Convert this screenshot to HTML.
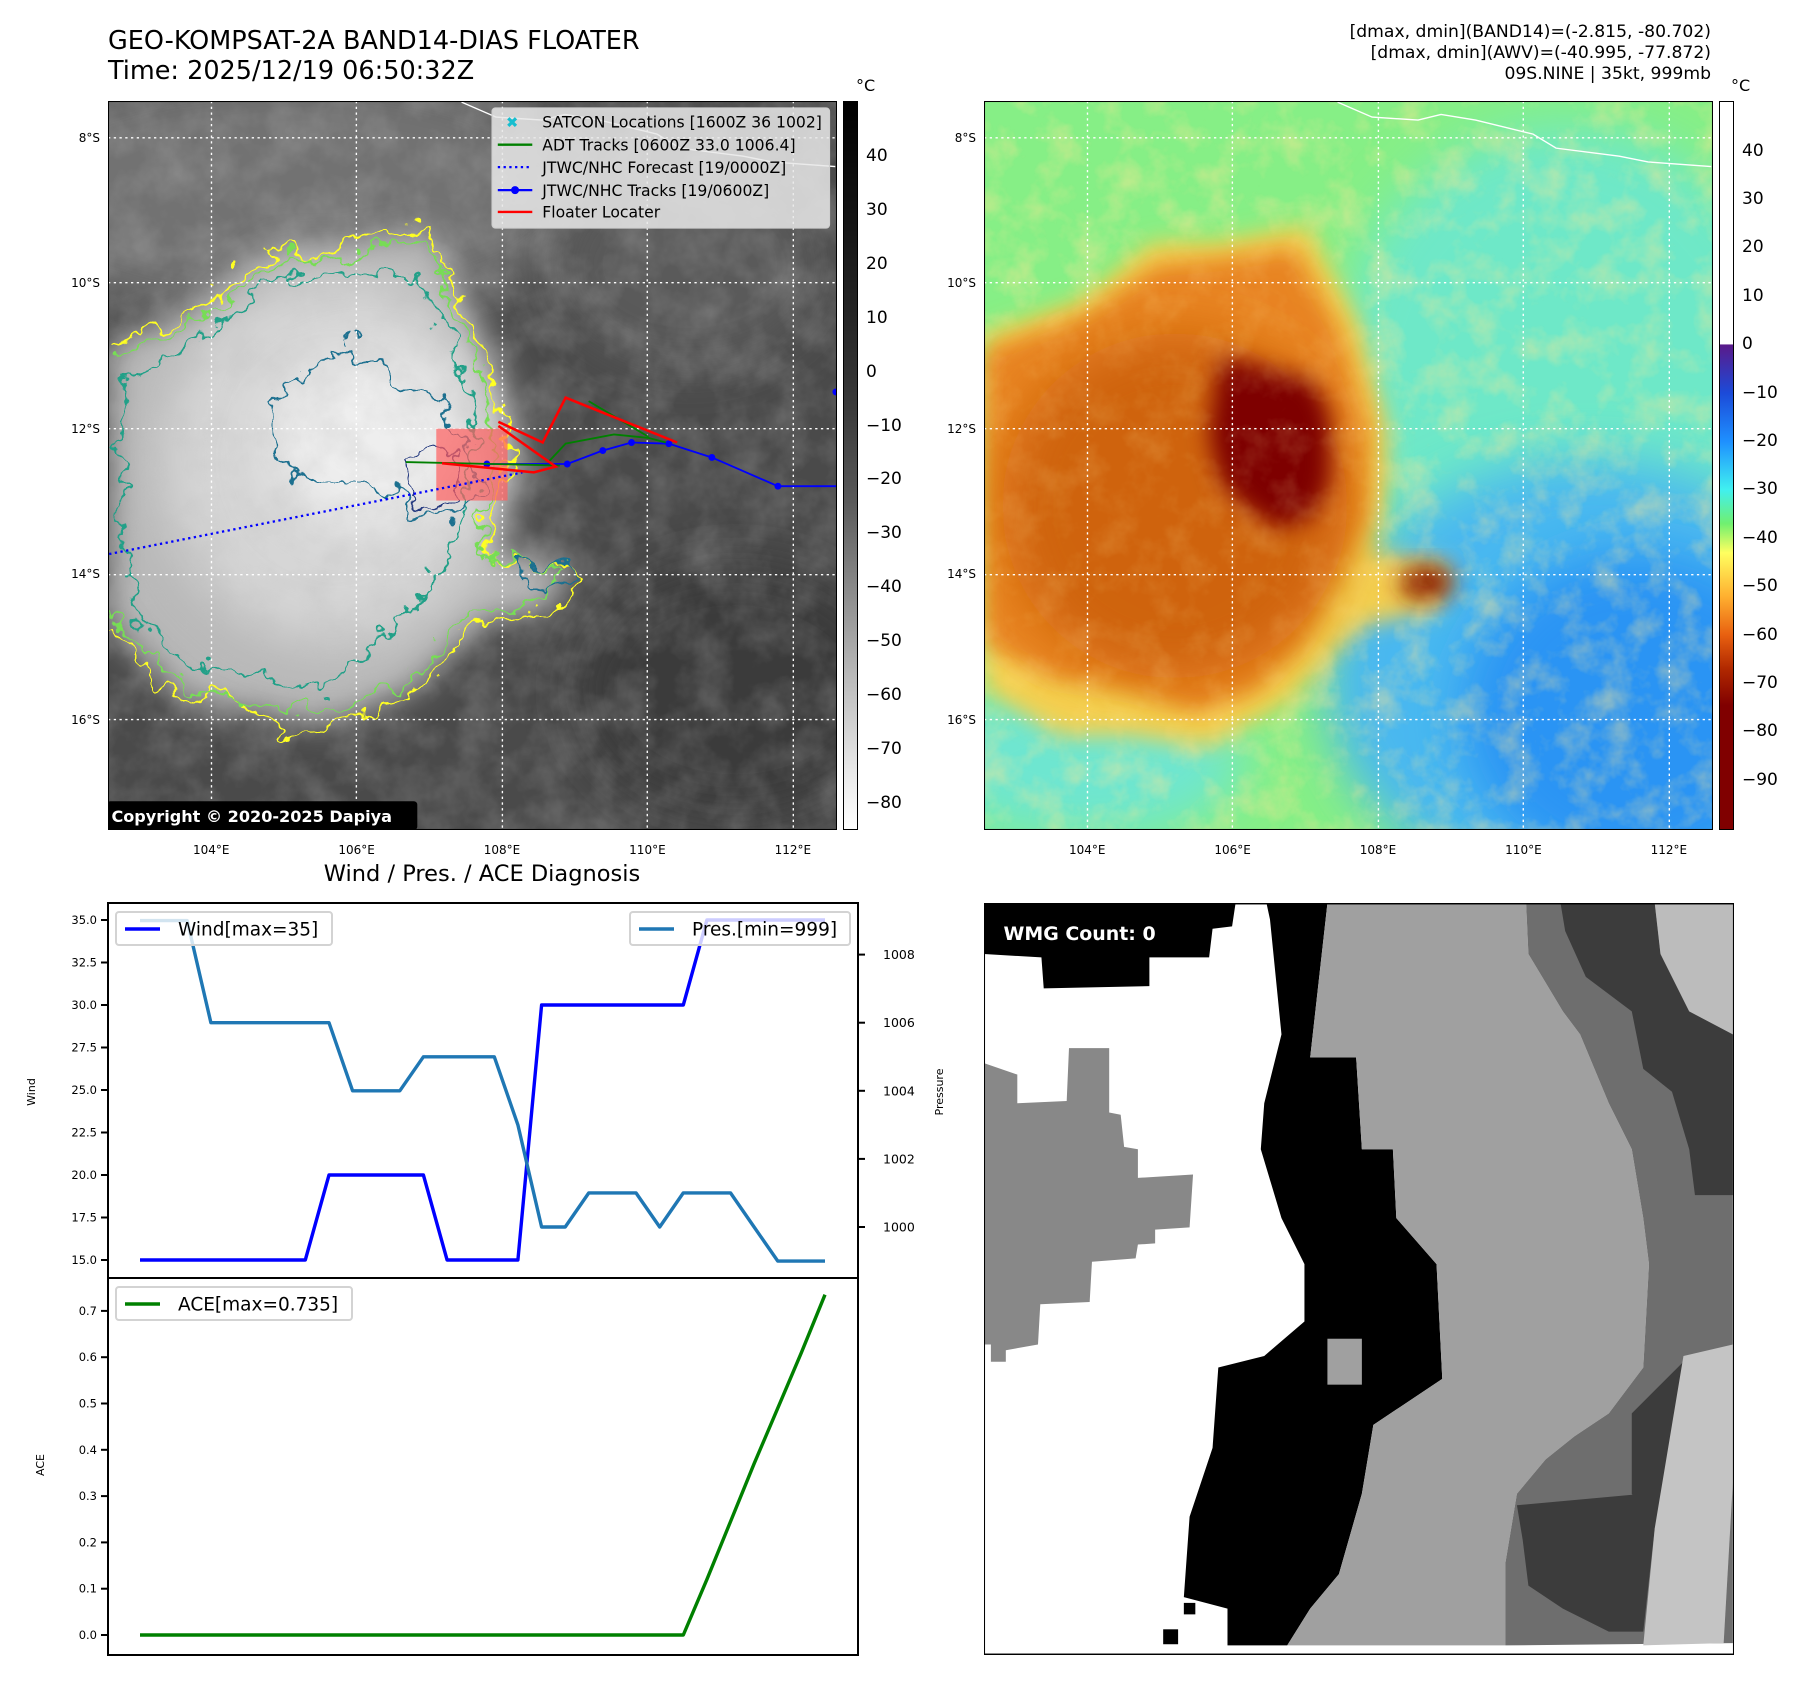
<!DOCTYPE html>
<html><head><meta charset="utf-8">
<style>
body{margin:0;background:#fff;font-family:"Liberation Sans","DejaVu Sans",sans-serif;}
#root{position:relative;width:1801px;height:1690px;overflow:hidden;background:#fff;}
.abs{position:absolute;}
.t{position:absolute;white-space:nowrap;color:#000;font-family:"DejaVu Sans","Liberation Sans",sans-serif;}
</style></head>
<body><div id="root">

<div class="t" style="left:108px;top:26px;font-size:25.5px;">GEO-KOMPSAT-2A BAND14-DIAS FLOATER</div>
<div class="t" style="left:108px;top:56px;font-size:25.5px;">Time: 2025/12/19 06:50:32Z</div>
<div class="t" style="right:90px;top:22px;font-size:17.2px;text-align:right;line-height:21px;">[dmax, dmin](BAND14)=(-2.815, -80.702)<br>[dmax, dmin](AWV)=(-40.995, -77.872)<br>09S.NINE | 35kt, 999mb</div>

<!-- MAP 1 -->
<svg class="abs" style="left:108px;top:101px" width="729" height="729" viewBox="94 88 634 634">
<defs>
<filter id="bl20" x="-50%" y="-50%" width="200%" height="200%"><feGaussianBlur stdDeviation="22"/></filter>
<filter id="bl10" x="-50%" y="-50%" width="200%" height="200%"><feGaussianBlur stdDeviation="14"/></filter>
<filter id="wig" x="-20%" y="-20%" width="140%" height="140%"><feTurbulence type="fractalNoise" baseFrequency="0.05" numOctaves="3" seed="3" result="n"/><feDisplacementMap in="SourceGraphic" in2="n" scale="34" xChannelSelector="R" yChannelSelector="G"/></filter>
<filter id="tex"><feTurbulence type="fractalNoise" baseFrequency="0.03" numOctaves="4" seed="7"/><feColorMatrix type="matrix" values="0 0 0 0 0.5 0 0 0 0 0.5 0 0 0 0 0.5 0 0 0 1.2 -0.4"/></filter>
<clipPath id="c1"><rect x="94" y="88" width="634" height="634"/></clipPath>
</defs>
<g clip-path="url(#c1)">
<rect x="94" y="88" width="634" height="634" fill="#4a4a4a"/>
<ellipse cx="250" cy="170" rx="260" ry="110" fill="#727272" filter="url(#bl20)"/>
<ellipse cx="600" cy="230" rx="120" ry="90" fill="#5a5a5a" filter="url(#bl20)"/>
<ellipse cx="640" cy="600" rx="140" ry="110" fill="#3a3a3a" filter="url(#bl20)"/>
<path d="M94,300 L180,265 L240,215 L300,215 L375,200 L410,280 L440,370 L442,410 L425,480 L500,490 L480,530 L420,540 L360,600 L290,630 L220,620 L160,610 L94,540Z" fill="#b8b8b8" filter="url(#bl10)"/>
<ellipse cx="290" cy="400" rx="150" ry="160" fill="#d6d6d6" filter="url(#bl20)"/>
<ellipse cx="320" cy="385" rx="85" ry="75" fill="#eeeeee" filter="url(#bl20)"/>
<rect x="94" y="88" width="634" height="634" filter="url(#tex)" opacity="0.4"/>
<g filter="url(#wig)" fill="none" stroke-width="2">
<path d="M94,300 L130,290 L180,265 L210,240 L240,215 L270,225 L300,215 L340,205 L375,200 L385,235 L410,280 L430,330 L440,370 L442,410 L430,445 L420,480 L450,490 L500,490 L510,505 L480,530 L420,540 L390,570 L360,600 L330,620 L290,630 L250,640 L220,620 L190,600 L160,610 L140,600 L110,560 L94,540" stroke="#ffff22"/>
<path d="M94,310 L140,295 L185,272 L240,225 L300,225 L370,210 L400,285 L425,335 L432,410 L415,480 L490,495 L470,522 L410,532 L355,592 L290,620 L220,610 L160,600 L115,555 L94,530" stroke="#77dd55"/>
<path d="M110,330 L190,285 L245,240 L300,240 L355,235 L395,300 L415,380 L405,450 L380,500 L330,560 L280,600 L220,590 L170,580 L120,540 L105,450Z" stroke="#22a088"/>
<path d="M232,350 L260,330 L280,310 L300,300 L330,320 L360,340 L375,340 L400,380 L420,420 L400,450 L360,450 L330,420 L300,420 L270,420 L240,400Z" stroke="#1f6f8f"/>
<path d="M350,400 L370,385 L395,390 L400,430 L380,445 L355,440Z" stroke="#253a80"/>
<path d="M455,490 L500,488 L505,505 L470,515 L455,505Z" stroke="#1f6f8f"/>
</g>
<g stroke="#fff" stroke-width="1.2" stroke-dasharray="2,3" fill="none">
<line x1="184" y1="88" x2="184" y2="722"/><line x1="310" y1="88" x2="310" y2="722"/><line x1="437" y1="88" x2="437" y2="722"/><line x1="563" y1="88" x2="563" y2="722"/><line x1="690" y1="88" x2="690" y2="722"/>
<line x1="94" y1="120" x2="728" y2="120"/><line x1="94" y1="246" x2="728" y2="246"/><line x1="94" y1="373" x2="728" y2="373"/><line x1="94" y1="500" x2="728" y2="500"/><line x1="94" y1="626" x2="728" y2="626"/>
</g>
<polyline points="401.5,89 431.5,102 471.5,104.6 491.5,99.7 521.5,104.6 571.5,116.8 591.5,129 646.5,136 671.5,141 726.5,145" fill="none" stroke="#fff" stroke-width="1.2"/>
<rect x="379.5" y="373" width="62" height="62.5" fill="#ff6060" opacity="0.7"/>
<polyline points="95,482 454.4,411" fill="none" stroke="#0000ff" stroke-width="2" stroke-dasharray="2,3"/>
<g fill="#0000ff">
<polyline points="423.5,403.7 493.4,403.7 524.3,392 549.3,385 581.7,386 619.2,398 676.6,423 730,423" fill="none" stroke="#0000ff" stroke-width="1.6"/>
<circle cx="423.5" cy="403.7" r="3"/><circle cx="493.4" cy="403.7" r="3"/><circle cx="524.3" cy="392" r="3"/><circle cx="549.3" cy="385" r="3"/><circle cx="581.7" cy="386" r="3"/><circle cx="619.2" cy="398" r="3"/><circle cx="676.6" cy="423" r="3"/><circle cx="727" cy="341" r="3"/>
</g>
<g fill="none" stroke="#008000" stroke-width="1.6">
<polyline points="353,402 487,405"/><polyline points="477,402 492,386 534,378 564,381 579,385"/><polyline points="512,349 564,380"/>
</g>
<g fill="none" stroke="#ff0000" stroke-width="2.2">
<polyline points="433.5,367 472,385 492,346 589,385"/><polyline points="433.5,370.6 483.4,406 464.4,411 384.5,403"/>
</g>
</g>
<rect x="94" y="88" width="634" height="634" fill="none" stroke="#000" stroke-width="1.8"/>
<g>
<rect x="428" y="94" width="293.5" height="104.5" rx="3" fill="#e8e8e8" fill-opacity="0.85" stroke="#cfcfcf"/>
<text x="440" y="111" font-size="13" fill="#17becf" font-weight="bold" font-family="DejaVu Sans">✖</text>
<line x1="433" y1="126" x2="463" y2="126" stroke="#008000" stroke-width="2"/>
<line x1="433" y1="145.5" x2="463" y2="145.5" stroke="#0000ff" stroke-width="2" stroke-dasharray="2,3"/>
<line x1="433" y1="165.5" x2="463" y2="165.5" stroke="#0000ff" stroke-width="2"/><circle cx="448" cy="165.5" r="3.5" fill="#0000ff"/>
<line x1="433" y1="184.5" x2="463" y2="184.5" stroke="#ff0000" stroke-width="2"/>
<g font-size="13.6" font-family="DejaVu Sans, Liberation Sans, sans-serif" fill="#000">
<text x="471.7" y="111">SATCON Locations [1600Z 36 1002]</text>
<text x="471.7" y="131">ADT Tracks [0600Z 33.0 1006.4]</text>
<text x="471.7" y="150.5">JTWC/NHC Forecast [19/0000Z]</text>
<text x="471.7" y="170.5">JTWC/NHC Tracks [19/0600Z]</text>
<text x="471.7" y="189.5">Floater Locater</text>
</g></g>
<rect x="93" y="697" width="270" height="25" rx="3" fill="#000"/>
<text x="97" y="715" font-size="14" font-weight="bold" fill="#fff" font-family="DejaVu Sans, Liberation Sans, sans-serif">Copyright © 2020-2025 Dapiya</text>
</svg>

<!-- MAP 2 -->
<svg class="abs" style="left:984px;top:101px" width="729" height="729" viewBox="94 88 634 634">
<defs>
<filter id="b2" x="-50%" y="-50%" width="200%" height="200%"><feGaussianBlur stdDeviation="22"/></filter>
<filter id="b3" x="-50%" y="-50%" width="200%" height="200%"><feGaussianBlur stdDeviation="10"/></filter>
<filter id="tex2"><feTurbulence type="fractalNoise" baseFrequency="0.035" numOctaves="4" seed="11"/><feColorMatrix type="matrix" values="0 0 0 0 1 0 0 0 0 0.8 0 0 0 0 0.3 0 0 0 1.4 -0.6"/></filter>
<clipPath id="c2"><rect x="94" y="88" width="634" height="634"/></clipPath>
</defs>
<g clip-path="url(#c2)">
<rect x="94" y="88" width="634" height="634" fill="#86ef86"/>
<ellipse cx="600" cy="330" rx="200" ry="220" fill="#6ee8c8" filter="url(#b2)"/>
<ellipse cx="180" cy="660" rx="140" ry="70" fill="#6ee6d0" filter="url(#b2)"/>
<ellipse cx="620" cy="590" rx="230" ry="190" fill="#48b8f0" filter="url(#b2)"/>
<ellipse cx="660" cy="620" rx="150" ry="140" fill="#2a94f4" filter="url(#b2)"/>
<rect x="94" y="88" width="634" height="634" filter="url(#tex2)" opacity="0.5"/>
<path d="M94,290 L180,260 L240,210 L300,210 L375,195 L420,280 L445,370 L445,420 L430,480 L500,490 L490,530 L420,545 L360,610 L290,650 L220,640 L160,640 L94,600Z" fill="#f4d050" filter="url(#b3)"/>
<path d="M94,305 L180,275 L245,230 L300,225 L365,215 L405,290 L428,370 L425,450 L400,500 L370,560 L330,600 L280,620 L220,600 L150,590 L94,560Z" fill="#e88424" filter="url(#b3)"/>
<ellipse cx="260" cy="440" rx="150" ry="150" fill="#cf6410" filter="url(#b2)"/>
<path d="M300,310 L340,320 L380,330 L395,360 L395,420 L380,450 L350,460 L320,440 L300,420 L290,380 L295,340Z" fill="#7e0000" filter="url(#b3)"/>
<ellipse cx="478" cy="507" rx="24" ry="15" fill="#8a1a00" filter="url(#b3)"/>
<rect x="94" y="88" width="634" height="634" filter="url(#tex2)" opacity="0.25"/>
<g stroke="#fff" stroke-width="1.2" stroke-dasharray="2,3" fill="none">
<line x1="184" y1="88" x2="184" y2="722"/><line x1="310" y1="88" x2="310" y2="722"/><line x1="437" y1="88" x2="437" y2="722"/><line x1="563" y1="88" x2="563" y2="722"/><line x1="690" y1="88" x2="690" y2="722"/>
<line x1="94" y1="120" x2="728" y2="120"/><line x1="94" y1="246" x2="728" y2="246"/><line x1="94" y1="373" x2="728" y2="373"/><line x1="94" y1="500" x2="728" y2="500"/><line x1="94" y1="626" x2="728" y2="626"/>
</g>
<polyline points="401.5,89 431.5,102 471.5,104.6 491.5,99.7 521.5,104.6 571.5,116.8 591.5,129 646.5,136 671.5,141 726.5,145" fill="none" stroke="#fff" stroke-width="1.2"/>
</g>
<rect x="94" y="88" width="634" height="634" fill="none" stroke="#000" stroke-width="1.8"/>
</svg>

<!-- Colorbars -->
<div class="abs" style="left:843px;top:101px;width:15px;height:729px;border:1px solid #000;box-sizing:border-box;background:linear-gradient(to bottom,#000 0%,#262626 30%,#3a3a3a 42%,#5a5a5a 55%,#8a8a8a 67%,#bdbdbd 80%,#e8e8e8 92%,#fff 100%);"></div>
<div class="t" style="left:856px;top:76px;font-size:16px;">°C</div>
<div class="abs" style="left:1719px;top:101px;width:15px;height:729px;border:1px solid #000;box-sizing:border-box;background:linear-gradient(to bottom,#fff 0%,#fff 33.3%,#5a1a8a 33.4%,#1c4ad8 40%,#1e90ff 46.7%,#40f0f0 53.3%,#70f070 58%,#ffff60 62%,#ffb030 68%,#e86010 73.3%,#b02800 78%,#800000 83%,#800000 100%);"></div>
<div class="t" style="left:1731px;top:76px;font-size:16px;">°C</div>

<div class="t" style="left:482px;top:861px;font-size:22.5px;transform:translateX(-50%);">Wind / Pres. / ACE Diagnosis</div>

<!-- Right bottom panel -->
<svg class="abs" style="left:984px;top:903px" width="750" height="752" viewBox="856 786 653 654">
<rect x="856" y="786" width="653" height="654" fill="#fff"/>
<path d="M856,786 L1075,786 L1072,806 L1055,808 L1052,833 L1000,833 L1000,858 L908,860 L906,833 L856,830Z" fill="#000"/>
<path d="M856,925 L885,935 L885,960 L928,958 L930,912 L965,912 L965,968 L975,970 L978,998 L990,1000 L990,1025 L1038,1022 L1035,1068 L1005,1070 L1005,1082 L990,1083 L988,1095 L950,1098 L948,1133 L905,1135 L903,1170 L875,1175 L875,1185 L862,1185 L862,1170 L856,1170Z" fill="#888"/>
<path d="M1102,786 L1155,786 L1140,920 L1180,920 L1185,1000 L1212,1000 L1215,1060 L1250,1100 L1255,1200 L1195,1240 L1185,1300 L1165,1370 L1140,1400 L1120,1432 L1068,1432 L1068,1400 L1030,1390 L1035,1320 L1055,1260 L1060,1190 L1100,1180 L1135,1150 L1135,1100 L1115,1060 L1097,1000 L1100,960 L1115,900 L1105,800Z" fill="#000"/>
<path d="M1155,786 L1328,786 L1330,830 L1360,880 L1375,900 L1400,960 L1420,1000 L1430,1060 L1435,1100 L1430,1190 L1400,1230 L1370,1250 L1345,1270 L1320,1300 L1310,1360 L1310,1432 L1120,1432 L1140,1400 L1165,1370 L1185,1300 L1195,1240 L1255,1200 L1250,1100 L1215,1060 L1212,1000 L1185,1000 L1180,920 L1140,920Z" fill="#a0a0a0"/>
<path d="M1328,786 L1508,786 L1508,1430 L1310,1432 L1310,1360 L1320,1300 L1345,1270 L1370,1250 L1400,1230 L1430,1190 L1435,1100 L1430,1060 L1420,1000 L1400,960 L1375,900 L1360,880 L1330,830Z" fill="#6e6e6e"/>
<path d="M1358,786 L1440,786 L1445,830 L1470,880 L1508,900 L1508,1040 L1475,1040 L1470,1000 L1455,950 L1430,930 L1420,880 L1380,850 L1362,810Z" fill="#3c3c3c"/>
<path d="M1440,786 L1508,786 L1508,900 L1470,880 L1445,830Z" fill="#bcbcbc"/>
<path d="M1420,1230 L1470,1180 L1465,1240 L1440,1330 L1420,1300Z" fill="#3c3c3c"/>
<path d="M1320,1310 L1430,1300 L1440,1330 L1430,1420 L1400,1420 L1360,1400 L1330,1380 L1325,1340Z" fill="#3c3c3c"/>
<path d="M1465,1180 L1508,1170 L1508,1290 L1500,1430 L1430,1432 L1440,1330 L1455,1240Z" fill="#c4c4c4"/>
<rect x="1012" y="1418" width="13" height="13" fill="#000"/><rect x="1030" y="1395" width="10" height="10" fill="#000"/>
<rect x="1155" y="1165" width="30" height="40" fill="#a0a0a0"/>
<rect x="856" y="786" width="653" height="654" fill="none" stroke="#000" stroke-width="1.8"/>
<rect x="866" y="799" width="164" height="27" rx="4" fill="#000"/>
<text x="873" y="818" font-size="16.5" font-weight="bold" fill="#fff" font-family="DejaVu Sans, Liberation Sans, sans-serif">WMG Count: 0</text>
</svg>

<!-- Bottom-left charts -->
<svg id="chart" class="abs" style="left:0;top:880px" width="980" height="810"></svg>

<script>
const windValues = [15,15,15,15,15,15,15,15,20,20,20,20,20,15,15,15,15,30,30,30,30,30,30,30,35,35,35,35,35,35];
const presValues = [1009,1009,1009,1006,1006,1006,1006,1006,1006,1004,1004,1004,1005,1005,1005,1005,1003,1000,1000,1001,1001,1001,1000,1001,1001,1001,1000,999,999,999];
const aceValues = [0,0,0,0,0,0,0,0,0,0,0,0,0,0,0,0,0,0,0,0,0,0,0,0,0.12,0.245,0.37,0.49,0.61,0.735];
const windTicks = [15.0,17.5,20.0,22.5,25.0,27.5,30.0,32.5,35.0];
const presTicks = [1000,1002,1004,1006,1008];
const aceTicks = [0.0,0.1,0.2,0.3,0.4,0.5,0.6,0.7];
const cbIrTicks = [40,30,20,10,0,-10,-20,-30,-40,-50,-60,-70,-80];
const cbAwvTicks = [40,30,20,10,0,-10,-20,-30,-40,-50,-60,-70,-80,-90];
const lonTicks = [104,106,108,110,112];
const latTicks = [8,10,12,14,16];

const NS='http://www.w3.org/2000/svg';
const svg=document.getElementById('chart');
const OY=880;
function xIdx(i){return 140+(825-140)*i/(windValues.length-1);}
function yWind(v){return 920-OY+(35-v)*(1260-920)/20;}
function yPres(p){return 1227-OY-(p-1000)*34.05;}
function yAce(v){return 1635-OY-v*463;}
function el(tag,attrs,parent){const e=document.createElementNS(NS,tag);for(const k in attrs)e.setAttribute(k,attrs[k]);(parent||svg).appendChild(e);return e;}
function txt(s,attrs){const t=el('text',Object.assign({'font-family':'DejaVu Sans, Liberation Sans, sans-serif',fill:'#000'},attrs));t.textContent=s;return t;}
function pathOf(vals,fy){return vals.map((v,i)=>(i?'L':'M')+xIdx(i).toFixed(1)+','+fy(v).toFixed(1)).join(' ');}

const top1=903-OY, bot1=1278-OY, bot2=1655-OY, L=108, R=858;
windTicks.forEach(v=>{const y=yWind(v);
 const tk=el('line',{x1:L-7,x2:L,y1:y,y2:y,stroke:'#000','stroke-width':2});
 
 const lb=txt(v.toFixed(1),{x:L-11,y:y+4,'font-size':11.5,'text-anchor':'end'});
 });
presTicks.forEach(v=>{const y=yPres(v);
 const tk=el('line',{x1:R,x2:R+7,y1:y,y2:y,stroke:'#000','stroke-width':2});
 
 const lb=txt(String(v),{x:R+25,y:y+4.5,'font-size':12.5});
 });
aceTicks.forEach(v=>{const y=yAce(v);
 const tk=el('line',{x1:L-7,x2:L,y1:y,y2:y,stroke:'#000','stroke-width':2});
 
 const lb=txt(v.toFixed(1),{x:L-11,y:y+4,'font-size':11.5,'text-anchor':'end'});
 });

const wl=el('path',{d:pathOf(windValues,yWind),fill:'none',stroke:'#0000ff','stroke-width':3.4,'stroke-linejoin':'round'});

const pl=el('path',{d:pathOf(presValues,yPres),fill:'none',stroke:'#1f77b4','stroke-width':3.4,'stroke-linejoin':'round'});

const al=el('path',{d:pathOf(aceValues,yAce),fill:'none',stroke:'#008000','stroke-width':3.4,'stroke-linejoin':'round'});


el('rect',{x:L,y:top1,width:R-L,height:bot1-top1,fill:'none',stroke:'#000','stroke-width':2});
el('rect',{x:L,y:bot1,width:R-L,height:bot2-bot1,fill:'none',stroke:'#000','stroke-width':2});

function legend(x,y,w,label,color,name){
 const g=el('g',{});
 
 el('rect',{x:x,y:y,width:w,height:33,rx:3,fill:'#fff','fill-opacity':0.8,stroke:'#d3d3d3','stroke-width':2},g);
 el('line',{x1:x+9,x2:x+44,y1:y+17,y2:y+17,stroke:color,'stroke-width':3.5},g);
 const t=document.createElementNS(NS,'text');t.setAttribute('x',x+62);t.setAttribute('y',y+23.5);t.setAttribute('font-size',18.5);t.setAttribute('font-family','DejaVu Sans, Liberation Sans, sans-serif');t.textContent=label;g.appendChild(t);
}
legend(116,912-OY,216,'Wind[max=35]','#0000ff','wind-legend');
legend(630,912-OY,220,'Pres.[min=999]','#1f77b4','pressure-legend');
legend(116,1287-OY,236,'ACE[max=0.735]','#008000','ace-legend');

const yl1=txt('Wind',{x:0,y:0,'font-size':11,'text-anchor':'middle',transform:'translate(35,'+(1092-OY)+') rotate(-90)'});

const yl2=txt('Pressure',{x:0,y:0,'font-size':11,'text-anchor':'middle',transform:'translate(943,'+(1092-OY)+') rotate(-90)'});

const yl3=txt('ACE',{x:0,y:0,'font-size':11,'text-anchor':'middle',transform:'translate(44,'+(1465-OY)+') rotate(-90)'});


const root=document.getElementById('root');
function div(s,css,name){const d=document.createElement('div');d.className='t';d.style.cssText=css;d.textContent=s;
 root.appendChild(d);return d;}
function lonX(lon){return 108+(lon-102.58)*72.7;}
function latY(lat){return 101+(lat-7.49)*72.7;}
[0,876].forEach(off=>{
 lonTicks.forEach(lon=>{div(lon+'°E','left:'+(lonX(lon)+off)+'px;top:843px;font-size:12px;transform:translateX(-50%);','lon-tick-label');});
 latTicks.forEach(lat=>{div(lat+'°S','left:'+(off+70)+'px;width:30px;text-align:right;top:'+(latY(lat)-7)+'px;font-size:12px;','lat-tick-label');});
});
cbIrTicks.forEach(v=>{const y=156+(40-v)*5.39;
 div(String(v).replace('-','−'),'left:866px;top:'+(y-10)+'px;font-size:17px;','ir-colorbar-label');});
cbAwvTicks.forEach(v=>{const y=150.5+(40-v)*4.84;
 div(String(v).replace('-','−'),'left:1742px;top:'+(y-10)+'px;font-size:17px;','awv-colorbar-label');});
</script>
</div></body></html>
